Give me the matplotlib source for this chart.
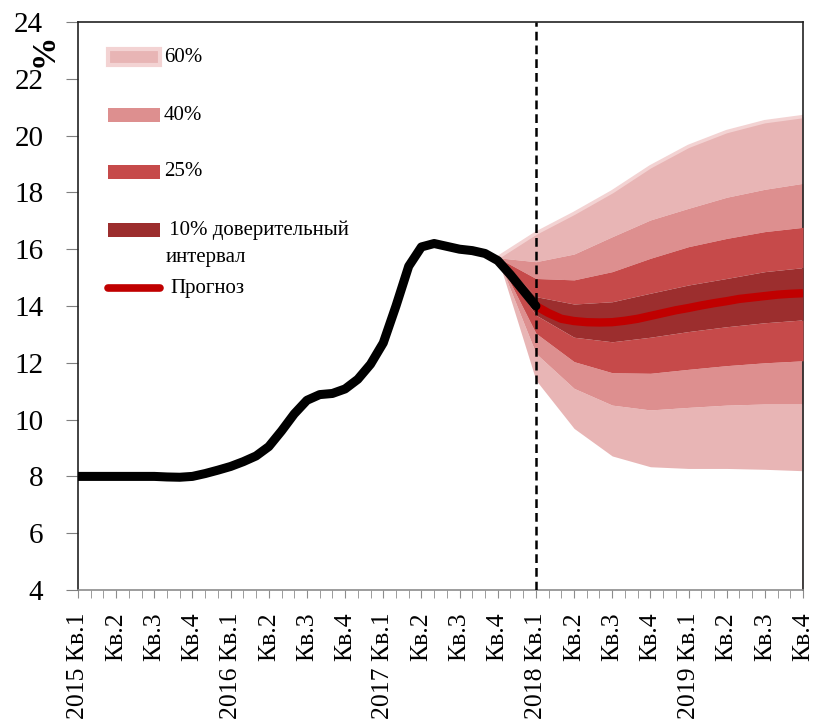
import matplotlib
matplotlib.use("Agg")
import matplotlib.pyplot as plt
from matplotlib.patches import Rectangle
from matplotlib.lines import Line2D
from matplotlib.ticker import MultipleLocator

plt.rcParams['font.family'] = ['Liberation Serif', 'DejaVu Serif']

W, H = 814, 722

# history (monthly, from 2015 Кв.1 = month 0)
hist_values = [8.0, 8.0, 8.0, 8.0, 8.0, 8.0, 8.0, 7.98, 7.97, 8.0,
               8.1, 8.22, 8.35, 8.52, 8.72, 9.05, 9.6, 10.2, 10.68, 10.88,
               10.92, 11.08, 11.42, 11.95, 12.7, 14.0, 15.4, 16.08, 16.2, 16.1,
               16.0, 15.95, 15.85, 15.6, 15.1, 14.55, 14.0]

# forecast (monthly, from 2018 Кв.1 = month 36)
fc_values = [14.0, 13.75, 13.55, 13.47, 13.43, 13.42, 13.43, 13.48, 13.55, 13.65,
             13.75, 13.85, 13.93, 14.02, 14.1, 14.17, 14.25, 14.3, 14.35, 14.4,
             14.43, 14.45]

# fan bounds (quarterly, months 33..57)
fan_months = [33, 36, 39, 42, 45, 48, 51, 54, 57]
lo60 = [15.7, 11.39, 9.69, 8.72, 8.34, 8.28, 8.28, 8.25, 8.20]
lo40 = [15.7, 12.33, 11.10, 10.51, 10.34, 10.43, 10.51, 10.55, 10.55]
lo25 = [15.7, 13.04, 12.04, 11.65, 11.63, 11.77, 11.90, 12.00, 12.07]
lo10 = [15.7, 13.68, 12.90, 12.74, 12.90, 13.10, 13.27, 13.41, 13.51]
hi10 = [15.7, 14.33, 14.07, 14.15, 14.45, 14.74, 14.97, 15.21, 15.35]
hi25 = [15.7, 14.97, 14.92, 15.21, 15.68, 16.09, 16.38, 16.62, 16.77]
hi40 = [15.7, 15.56, 15.83, 16.44, 17.03, 17.44, 17.83, 18.11, 18.32]
hi60 = [15.7, 16.56, 17.26, 18.02, 18.90, 19.62, 20.14, 20.49, 20.67]

years = ['2015', '2016', '2017', '2018', '2019']
quarters = ['Кв.1', 'Кв.2', 'Кв.3', 'Кв.4']
tick_labels = []
for y in years:
    for i, q in enumerate(quarters):
        tick_labels.append(f"{y} {q}" if i == 0 else q)

band_labels = ['60%', '40%', '25%', ' 10% доверительный', 'интервал']
fc_label = 'Прогноз'
c60, c40, c25, c10 = '#E8B5B5', '#DD8F8F', '#C64A4A', '#9C2E2E'
c_edge = '#F3D3D3'
c_fc = '#C00000'

fig = plt.figure(figsize=(W / 100, H / 100), dpi=100)
ax = fig.add_axes([78 / W, 1 - 590 / H, 725 / W, 568 / H])

# fan chart, widest band first
ax.fill_between(fan_months, lo60, lo40, color=c60, lw=0, zorder=1)
ax.fill_between(fan_months, hi40, hi60, color=c60, lw=0, zorder=1)
ax.plot(fan_months, hi60, color=c_edge, lw=2.5, zorder=1)
ax.plot([fan_months[-1]] * 2, [4, hi60[-1]], color=c_edge, lw=2, zorder=1)
ax.fill_between(fan_months, lo40, lo25, color=c40, lw=0, zorder=2)
ax.fill_between(fan_months, hi25, hi40, color=c40, lw=0, zorder=2)
ax.fill_between(fan_months, lo25, lo10, color=c25, lw=0, zorder=3)
ax.fill_between(fan_months, hi10, hi25, color=c25, lw=0, zorder=3)
ax.fill_between(fan_months, lo10, hi10, color=c10, lw=0, zorder=4)

fc_x = list(range(36, 36 + len(fc_values)))
ax.plot(fc_x, fc_values, color=c_fc, lw=6, solid_capstyle='butt',
        solid_joinstyle='round', zorder=5)

hist_x = list(range(len(hist_values)))
ax.plot(hist_x, hist_values, color='black', lw=6.5, solid_capstyle='round',
        solid_joinstyle='round', zorder=6)

ax.axvline(36, color='black', lw=1.8, ls=(0, (3.5, 2)), zorder=7)

ax.set_xlim(0, 57)
ax.set_ylim(4, 24)
ax.yaxis.set_major_locator(MultipleLocator(2))
ax.set_xticks(list(range(0, 58, 3)))
ax.set_xticklabels(tick_labels, rotation=90, fontsize=18.5)
ax.xaxis.set_minor_locator(MultipleLocator(1))
ax.tick_params(axis='y', labelsize=21, direction='out', length=9, color='#7f7f7f', pad=16)
ax.tick_params(axis='x', which='both', direction='out', length=6, color='#8c8c8c', pad=10)
for s in ['left', 'top', 'right']:
    ax.spines[s].set_color('#222222')
    ax.spines[s].set_linewidth(1.2)
ax.spines['bottom'].set_color('#8c8c8c')
ax.spines['bottom'].set_linewidth(1.2)

fig.text(44 / W, 1 - 50 / H, '%', rotation=90, fontsize=24, fontweight='bold',
         ha='center', va='center')


# manual legend (pixel positions)
def fx(px):
    return px / W


def fy(py):
    return 1 - py / H


fig.patches.append(Rectangle((fx(108), fy(65)), fx(52), 16 / H, transform=fig.transFigure,
                             facecolor=c60, edgecolor=c_edge, lw=3))
for yc, col in [(115, c40), (172, c25), (230, c10)]:
    fig.patches.append(Rectangle((fx(108), fy(yc + 7)), fx(52), 14 / H,
                                 transform=fig.transFigure, facecolor=col, lw=0))

fig.text(fx(164), fy(57), band_labels[0], fontsize=15, ha='left', va='center')
fig.text(fx(164), fy(115), band_labels[1], fontsize=15, ha='left', va='center')
fig.text(fx(164), fy(172), band_labels[2], fontsize=15, ha='left', va='center')
fig.text(fx(164), fy(230), band_labels[3], fontsize=15, ha='left', va='center')
fig.text(fx(166), fy(258), band_labels[4], fontsize=15, ha='left', va='center')
fig.lines.append(Line2D([fx(108), fx(160)], [fy(288), fy(288)], transform=fig.transFigure,
                        color=c_fc, lw=5.5, solid_capstyle='round'))
fig.text(fx(170), fy(288), fc_label, fontsize=15, ha='left', va='center')

fig.savefig('out.png', dpi=100)
